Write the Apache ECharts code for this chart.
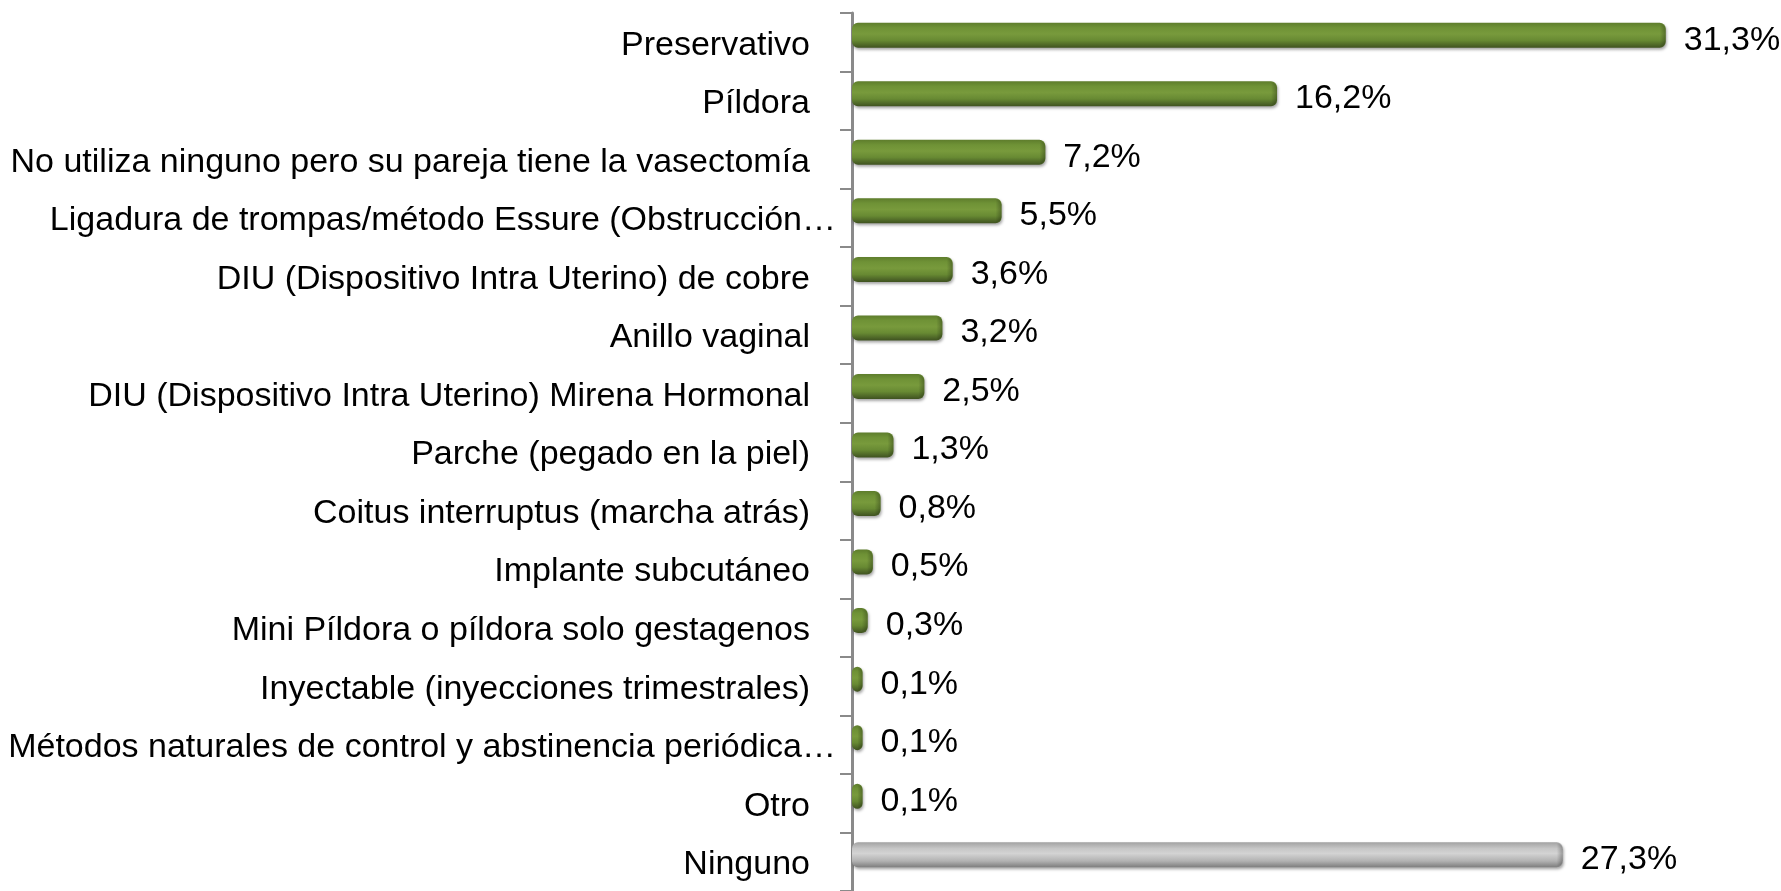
<!DOCTYPE html>
<html>
<head>
<meta charset="utf-8">
<script src="https://cdn.jsdelivr.net/npm/echarts@6/dist/echarts.min.js"></script>
<style>
html,body{margin:0;padding:0;background:#fff;}
#chart{width:1781px;height:891px;}
</style>
</head>
<body>
<div id="chart"></div>
<script>
const categories = [
  'Preservativo',
  'Píldora',
  'No utiliza ninguno pero su pareja tiene la vasectomía',
  'Ligadura de trompas/método Essure (Obstrucción…',
  'DIU (Dispositivo Intra Uterino) de cobre',
  'Anillo vaginal',
  'DIU (Dispositivo Intra Uterino) Mirena Hormonal',
  'Parche (pegado en la piel)',
  'Coitus interruptus (marcha atrás)',
  'Implante subcutáneo',
  'Mini Píldora o píldora solo gestagenos',
  'Inyectable (inyecciones trimestrales)',
  'Métodos naturales de control y abstinencia periódica…',
  'Otro',
  'Ninguno'
];
const values = [31.3, 16.2, 7.2, 5.5, 3.6, 3.2, 2.5, 1.3, 0.8, 0.5, 0.3, 0.1, 0.1, 0.1, 27.3];
const greyCategory = 'Ninguno';

const FONT = 'Liberation Sans';
const FS = 34;
const chart = echarts.init(document.getElementById('chart'));

const greenFill = new echarts.graphic.LinearGradient(0, 0, 0, 1, [
  {offset: 0, color: '#5e7d2c'},
  {offset: 0.2, color: '#6f9236'},
  {offset: 0.45, color: '#789a3c'},
  {offset: 0.7, color: '#688a33'},
  {offset: 0.9, color: '#4d6527'},
  {offset: 1, color: '#3f5220'}
]);
const greyFill = new echarts.graphic.LinearGradient(0, 0, 0, 1, [
  {offset: 0, color: '#a2a2a2'},
  {offset: 0.25, color: '#c6c6c6'},
  {offset: 0.45, color: '#d3d3d3'},
  {offset: 0.75, color: '#b2b2b2'},
  {offset: 1, color: '#7e7e7e'}
]);
const capShade = new echarts.graphic.LinearGradient(0, 0, 1, 0, [
  {offset: 0, color: 'rgba(0,0,0,0)'},
  {offset: 1, color: 'rgba(0,0,0,0.28)'}
]);

function fmt(v) { return v.toFixed(1).replace('.', ',') + '%'; }

chart.setOption({
  backgroundColor: '#ffffff',
  animation: false,
  grid: {left: 852, top: 13, width: 901, height: 879},
  xAxis: {type: 'value', min: 0, max: 35, show: false},
  yAxis: {
    type: 'category',
    data: categories,
    inverse: true,
    offset: 5,
    axisLine: {show: true, lineStyle: {color: '#8a8a8a', width: 3}},
    axisTick: {show: true, length: 12, lineStyle: {color: '#8a8a8a', width: 2}},
    axisLabel: {
      margin: 11,
      color: '#000',
      fontSize: FS,
      fontFamily: FONT,
      formatter: function (v) {
        return v.endsWith('…') ? '{t|' + v + '}' : '{n|' + v + '}';
      },
      rich: {
        t: {fontSize: FS, fontFamily: FONT, color: '#000', padding: [6, 0, 0, 0]},
        n: {fontSize: FS, fontFamily: FONT, color: '#000', padding: [6, 26, 0, 0]}
      }
    },
    splitLine: {show: false}
  },
  series: [{
    type: 'custom',
    data: values.map((v, i) => [v, i]),
    encode: {x: 0, y: 1},
    renderItem: function (params, api) {
      const v = api.value(0);
      const c = api.value(1);
      const p0 = api.coord([0, c]);
      const p1 = api.coord([v, c]);
      const h = 25;
      const cy = p0[1] - 7;
      const x0 = p0[0];
      const x1 = p1[0] + 8;
      const isGrey = categories[c] === greyCategory;
      const capW = Math.min(6, (x1 - x0) / 2);
      return {
        type: 'group',
        children: [
          {
            type: 'rect',
            shape: {x: x0, y: cy - h / 2, width: x1 - x0, height: h, r: 6},
            style: {
              fill: isGrey ? greyFill : greenFill,
              shadowBlur: 3,
              shadowOffsetY: 2,
              shadowOffsetX: 1,
              shadowColor: 'rgba(0,0,0,0.35)'
            }
          },
          {
            type: 'rect',
            shape: {x: x1 - capW, y: cy - h / 2 + 1, width: capW, height: h - 2, r: [0, 6, 6, 0]},
            style: {fill: capShade}
          },
          {
            type: 'text',
            style: {
              text: fmt(v),
              x: x1 + 18,
              y: p0[1] - 2,
              align: 'left',
              verticalAlign: 'middle',
              fontSize: FS,
              fontFamily: FONT,
              fill: '#000'
            }
          }
        ]
      };
    }
  }]
});
</script>
</body>
</html>
